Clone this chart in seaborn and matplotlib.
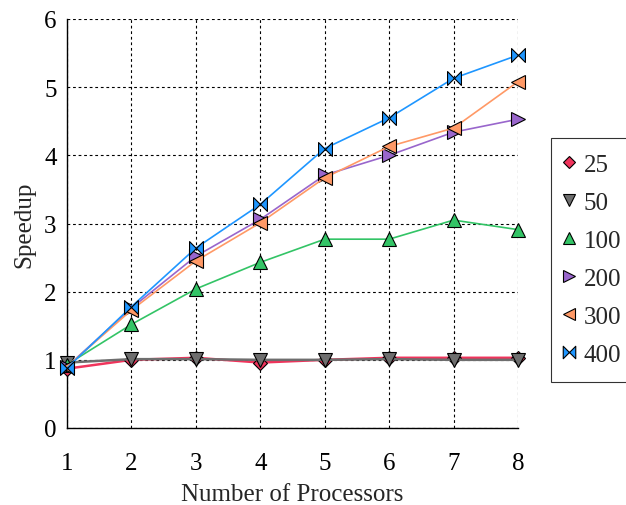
import numpy as np
import pandas as pd
import matplotlib
matplotlib.use("Agg")
import matplotlib.pyplot as plt
from matplotlib.path import Path
from matplotlib.lines import Line2D
import seaborn as sns

processors = [1, 2, 3, 4, 5, 6, 7, 8]
sizes = ["25", "50", "100", "200", "300", "400"]
s25 = [0.87, 1.00, 1.03, 0.96, 1.00, 1.03, 1.03, 1.03]
s50 = [0.96, 1.01, 1.01, 1.00, 1.00, 1.01, 1.00, 1.00]
s100 = [0.93, 1.52, 2.04, 2.43, 2.77, 2.77, 3.05, 2.91]
s200 = [0.90, 1.76, 2.52, 3.06, 3.71, 4.00, 4.34, 4.53]
s300 = [0.90, 1.73, 2.45, 3.01, 3.67, 4.13, 4.40, 5.08]
s400 = [0.88, 1.78, 2.64, 3.28, 4.10, 4.55, 5.13, 5.47]
series = [s25, s50, s100, s200, s300, s400]

colors = ["#f0345c", "#6e6e6e", "#33c466", "#9966cc", "#ff9966", "#1e96ff"]
lws = [1.8, 1.8, 1.2, 1.2, 1.2, 1.2]
bowtie = Path([(-1, 1), (-1, -1), (1, 1), (1, -1), (-1, 1)],
              [Path.MOVETO, Path.LINETO, Path.LINETO, Path.LINETO, Path.CLOSEPOLY])
markers = ["D", "v", "^", ">", "<", bowtie]
msizes = [7, 10, 10, 10, 10, 10]

rows = []
for name, vals in zip(sizes, series):
    for p, v in zip(processors, vals):
        rows.append({"Processors": p, "Speedup": v, "Size": name})
df = pd.DataFrame(rows)

sns.set_style("white")
plt.rcParams["font.family"] = ["Liberation Serif", "DejaVu Serif"]

fig = plt.figure(figsize=(6.26, 5.06), dpi=100)
ax = fig.add_axes([67/626, 1-429/506, 451/626, 409/506])

for i, name in enumerate(sizes):
    sub = df[df["Size"] == name]
    sns.lineplot(data=sub, x="Processors", y="Speedup", ax=ax, color=colors[i],
                 linewidth=lws[i], marker=markers[i], markersize=msizes[i],
                 markeredgecolor="black", markeredgewidth=0.8, legend=False,
                 zorder=3 + i, clip_on=False)

ax.set_xlim(1, 8)
ax.set_ylim(0, 6)
ax.set_xticks(processors)
ax.set_yticks(range(0, 7))
ax.grid(True, color="black", linestyle=(0, (2.5, 2.5)), linewidth=0.8)
ax.set_axisbelow(True)
for sp in ["top", "right"]:
    ax.spines[sp].set_visible(False)
for sp in ["left", "bottom"]:
    ax.spines[sp].set_color("black")
    ax.spines[sp].set_linewidth(1.0)
ax.tick_params(axis="both", direction="inout", length=9, width=0.8, labelsize=18,
               colors="black")
ax.tick_params(axis="x", pad=13)
ax.tick_params(axis="y", pad=3)
ax.set_xlabel("Number of Processors", fontsize=18, labelpad=6)
ax.set_ylabel("Speedup", fontsize=18, labelpad=6)

handles = [Line2D([], [], linestyle="none", marker=markers[i], markersize=msizes[i] * 0.9,
                  markerfacecolor=colors[i], markeredgecolor="black", markeredgewidth=0.8)
           for i in range(len(sizes))]
leg = fig.legend(handles, sizes, loc="upper left", bbox_to_anchor=(551/626, 1-139/506),
                 frameon=True, fancybox=False, fontsize=18, handlelength=0.18,
                 handletextpad=0.5, labelspacing=0.62, borderpad=0.62, borderaxespad=0)
leg.get_frame().set_edgecolor("black")
leg.get_frame().set_linewidth(0.8)

fig.savefig("out.png", dpi=100)
